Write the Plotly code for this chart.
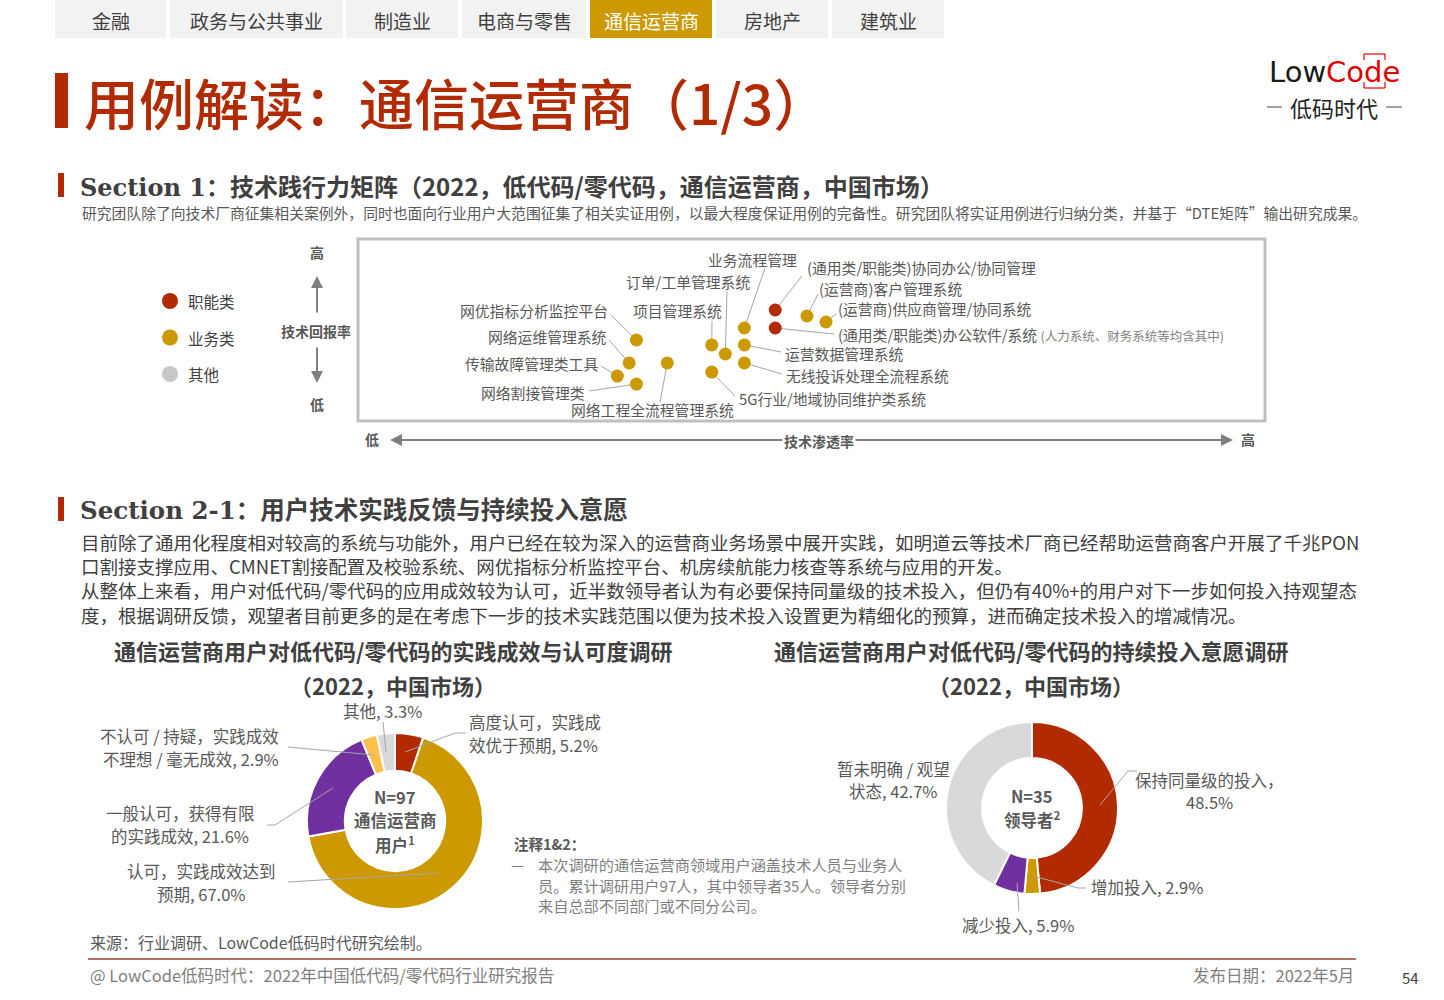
import plotly.graph_objects as go

W, H = 1444, 1000
def X(p): return p / W
def Y(p): return 1 - p / H

FONT = "Noto Sans CJK SC, Noto Sans, sans-serif"
RED = "#B22A00"
GOLD = "#CC9900"
PURPLE = "#7030A0"
ORANGE = "#FFC04C"
LGRAY = "#D9D9D9"
TXT = "#404040"
TXT2 = "#595959"
TXT3 = "#7F7F7F"

# ---------------- data ----------------
tabs = ["金融", "政务与公共事业", "制造业", "电商与零售", "通信运营商", "房地产", "建筑业"]
active_tab = "通信运营商"

systems = ["网优指标分析监控平台", "网络运维管理系统", "传输故障管理类工具", "网络割接管理类",
           "网络工程全流程管理系统", "项目管理系统", "订单/工单管理系统", "业务流程管理",
           "运营数据管理系统", "无线投诉处理全流程系统", "5G行业/地域协同维护类系统",
           "(通用类/职能类)协同办公/协同管理", "(通用类/职能类)办公软件/系统",
           "(运营商)客户管理系统", "(运营商)供应商管理/协同系统"]
penetration = [30.7, 29.9, 28.6, 30.7, 34.1, 39.0, 40.5, 42.6, 42.6, 42.6, 39.0, 46.0, 46.0, 49.5, 51.6]
tech_return = [44.5, 31.9, 24.7, 20.3, 31.9, 41.8, 36.8, 51.1, 41.8, 31.9, 26.9, 61.0, 51.1, 57.7, 54.4]
category = ["业务类"] * 11 + ["职能类", "职能类", "业务类", "业务类"]
legend_cats = ["职能类", "业务类", "其他"]

d1_labels = ["高度认可，实践成效优于预期", "认可，实践成效达到预期", "一般认可，获得有限的实践成效",
             "不认可 / 持疑，实践成效不理想 / 毫无成效", "其他"]
d1_values = [5.2, 67.0, 21.6, 2.9, 3.3]
d2_labels = ["保持同量级的投入", "增加投入", "减少投入", "暂未明确 / 观望状态"]
d2_values = [48.5, 2.9, 5.9, 42.7]

# ---------------- styles / layout helpers ----------------
cat_color = {"职能类": RED, "业务类": GOLD, "其他": "#C8C8C8"}
annotations, shapes = [], []

def txt(x, y, s, size=15, color=TXT2, anchor="left", bold=False, family=FONT, yanchor="middle", weight=None):
    if bold:
        s = f"<b>{s}</b>"
    f = dict(size=size, color=color, family=family)
    if weight:
        f["weight"] = weight
    annotations.append(dict(x=X(x), y=Y(y), xref="paper", yref="paper", text=s, showarrow=False,
                            xanchor=anchor, yanchor=yanchor, font=f))

def line(pts, color="#A6A6A6", width=1):
    for (x0, y0), (x1, y1) in zip(pts[:-1], pts[1:]):
        shapes.append(dict(type="line", xref="paper", yref="paper", x0=X(x0), y0=Y(y0),
                           x1=X(x1), y1=Y(y1), line=dict(color=color, width=width)))

def rect(x0, y0, x1, y1, fill, lc=None, lw=0):
    shapes.append(dict(type="rect", xref="paper", yref="paper", x0=X(x0), y0=Y(y0), x1=X(x1), y1=Y(y1),
                       fillcolor=fill, line=dict(color=lc or fill, width=lw), layer="below"))

def arrow(x0, y0, x1, y1, color="#7F7F7F"):
    annotations.append(dict(x=X(x1), y=Y(y1), ax=x0 - x1, ay=y0 - y1, xref="paper", yref="paper",
                            axref="pixel", ayref="pixel", text="", showarrow=True, arrowhead=2,
                            arrowsize=1.2, arrowwidth=2, arrowcolor=color))

# ---------------- tabs ----------------
tab_edges = [(55, 166), (170, 343), (346, 458), (462, 586), (590, 712), (716, 828), (832, 944)]
for t, (a, b) in zip(tabs, tab_edges):
    on = t == active_tab
    rect(a, 0, b, 38, GOLD if on else "#F2F2F2")
    txt((a + b) / 2, 20, t, size=19, color="white" if on else TXT, anchor="center")

# ---------------- title ----------------
rect(55, 73, 68, 128, RED)
txt(82, 101, "用例解读：通信运营商（1/3）", size=55, color=RED, weight=500)

# logo
annotations.append(dict(x=X(1334), y=Y(72), xref="paper", yref="paper", showarrow=False,
                        xanchor="center", yanchor="middle",
                        text="<span style='color:#1a1a1a'>Low</span><span style='color:#E00000'>Code</span>",
                        font=dict(size=29, family="DejaVu Sans")))
BR = "#E00000"
line([(1364, 60), (1364, 54), (1385, 54), (1385, 60)], color=BR, width=1.2)
line([(1364, 82), (1364, 88), (1385, 88), (1385, 82)], color=BR, width=1.2)
txt(1334, 107, "低码时代", size=22, color="#222222", anchor="center")
line([(1267, 107), (1282, 107)], color="#444444", width=1)
line([(1386, 107), (1402, 107)], color="#444444", width=1)

# ---------------- section 1 ----------------
rect(58, 173, 64, 197, RED)
txt(78, 185, "<b><span style='font-family:DejaVu Serif'>Section 1</span>：技术践行力矩阵（2022，低代码/零代码，通信运营商，中国市场）</b>",
    size=24, color=TXT)
txt(80, 213, "研究团队除了向技术厂商征集相关案例外，同时也面向行业用户大范围征集了相关实证用例，以最大程度保证用例的完备性。研究团队将实证用例进行归纳分类，并基于“DTE矩阵”输出研究成果。",
    size=14.8, color=TXT2)

# matrix frame
MX0, MX1, MY0, MY1 = 358, 1265, 239, 421
def dx(p): return (p - MX0) / (MX1 - MX0) * 100
def dy(p): return (MY1 - p) / (MY1 - MY0) * 100
rect(MX0, MY0, MX1, MY1, "rgba(0,0,0,0)", lc="#BFBFBF", lw=3)

# legend
for i, c in enumerate(legend_cats):
    yy = 301 + i * 36.5
    shapes.append(dict(type="circle", xref="paper", yref="paper", x0=X(162), x1=X(178), y0=Y(yy + 8),
                       y1=Y(yy - 8), fillcolor=cat_color[c], line=dict(width=0)))
    txt(186, yy, c, size=15.5, color=TXT)

# y axis hint
txt(317, 252, "高", size=14, color=TXT2, anchor="center", bold=True)
txt(316, 331, "技术回报率", size=14, color=TXT2, anchor="center", bold=True)
txt(317, 404, "低", size=14, color=TXT2, anchor="center", bold=True)
arrow(317, 314, 317, 276)
arrow(317, 346, 317, 383)
# x axis hint
arrow(819, 440, 390, 440)
arrow(819, 440, 1233, 440)
annotations.append(dict(x=X(819), y=Y(441), xref="paper", yref="paper", showarrow=False,
                        text="<b>技术渗透率</b>", bgcolor="white", xanchor="center", yanchor="middle",
                        font=dict(size=14, color=TXT2, family=FONT)))
txt(372, 439, "低", size=14, color=TXT2, anchor="center", bold=True)
txt(1248, 439, "高", size=14, color=TXT2, anchor="center", bold=True)

# label placement: name -> (text x, text y, anchor, leader end x, leader end y)
placements = {
    "网优指标分析监控平台": (610, 311, "right", 611, 315),
    "网络运维管理系统": (609, 336, "right", 609, 340),
    "传输故障管理类工具": (600, 363, "right", 601, 366),
    "网络割接管理类": (587, 392, "right", 589, 391),
    "网络工程全流程管理系统": (652, 410, "center", 660, 402),
    "项目管理系统": (677, 311, "center", 712, 321),
    "订单/工单管理系统": (688, 281, "center", 727, 291),
    "业务流程管理": (752, 259, "center", 765, 268),
    "运营数据管理系统": (783, 353, "left", 781, 352),
    "无线投诉处理全流程系统": (784, 375, "left", 782, 374),
    "5G行业/地域协同维护类系统": (737, 398, "left", 735, 396),
    "(通用类/职能类)协同办公/协同管理": (805, 267, "left", 802, 276),
    "(通用类/职能类)办公软件/系统": (836, 334, "left", 834, 334),
    "(运营商)客户管理系统": (817, 288, "left", 818, 294),
    "(运营商)供应商管理/协同系统": (836, 308, "left", 836, 314),
}
for name, px_, ry in zip(systems, penetration, tech_return):
    tx, ty, anc, ex, ey = placements[name]
    shapes.append(dict(type="line", xref="x", yref="y", x0=px_, y0=ry, x1=dx(ex), y1=dy(ey),
                       line=dict(color="#A6A6A6", width=1), layer="below"))
    s = name
    if name == "(通用类/职能类)办公软件/系统":
        s = name + " <span style='font-size:12.5px;color:#7F7F7F'>(人力系统、财务系统等均含其中)</span>"
    txt(tx, ty, s, size=14.8, color=TXT2, anchor=anc)

fig = go.Figure()
for c in ["业务类", "职能类"]:
    idx = [i for i, k in enumerate(category) if k == c]
    fig.add_trace(go.Scatter(x=[penetration[i] for i in idx], y=[tech_return[i] for i in idx],
                             text=[systems[i] for i in idx], mode="markers", name=c,
                             marker=dict(size=13, color=cat_color[c], line=dict(width=0)),
                             hoverinfo="text", showlegend=False))

# ---------------- section 2-1 ----------------
rect(58, 497, 64, 521, RED)
txt(78, 508, "<b><span style='font-family:DejaVu Serif'>Section 2-1</span>：用户技术实践反馈与持续投入意愿</b>",
    size=24.5, color=TXT)
para = [
    "目前除了通用化程度相对较高的系统与功能外，用户已经在较为深入的运营商业务场景中展开实践，如明道云等技术厂商已经帮助运营商客户开展了千兆PON",
    "口割接支撑应用、CMNET割接配置及校验系统、网优指标分析监控平台、机房续航能力核查等系统与应用的开发。",
    "从整体上来看，用户对低代码/零代码的应用成效较为认可，近半数领导者认为有必要保持同量级的技术投入，但仍有40%+的用户对下一步如何投入持观望态",
    "度，根据调研反馈，观望者目前更多的是在考虑下一步的技术实践范围以便为技术投入设置更为精细化的预算，进而确定技术投入的增减情况。",
]
for i, p in enumerate(para):
    txt(79, [542, 566, 590, 615][i], p, size=18.5, color=TXT)

# chart titles
txt(393, 650, "通信运营商用户对低代码/零代码的实践成效与认可度调研", size=22, color=TXT, anchor="center", bold=True)
txt(393, 685, "（2022，中国市场）", size=22, color=TXT, anchor="center", bold=True)
txt(1031, 650, "通信运营商用户对低代码/零代码的持续投入意愿调研", size=22, color=TXT, anchor="center", bold=True)
txt(1031, 685, "（2022，中国市场）", size=22, color=TXT, anchor="center", bold=True)

# donut 1
C1, R1 = (395, 821), 88
fig.add_trace(go.Pie(values=d1_values, labels=d1_labels, hole=0.57, sort=False, direction="clockwise",
                     rotation=0, textinfo="none", hoverinfo="label+percent", showlegend=False,
                     marker=dict(colors=[RED, GOLD, PURPLE, ORANGE, LGRAY], line=dict(color="white", width=2)),
                     domain=dict(x=[X(C1[0] - R1), X(C1[0] + R1)], y=[Y(C1[1] + R1), Y(C1[1] - R1)])))
txt(395, 797, "N=97", size=16.5, color=TXT2, anchor="center", bold=True)
txt(395, 820, "通信运营商", size=16.5, color=TXT2, anchor="center", bold=True)
txt(395, 844, "用户<sup>1</sup>", size=16.5, color=TXT2, anchor="center", bold=True)

LS = 16.5
txt(382, 711, "其他, 3.3%", size=LS, anchor="center")
line([(383, 722), (386, 752)])
txt(467, 722, "高度认可，实践成", size=LS)
txt(467, 745, "效优于预期, 5.2%", size=LS)
line([(466, 733), (455, 733), (405, 752)])
txt(281, 736, "不认可 / 持疑，实践成效", size=LS, anchor="right")
txt(281, 759, "不理想 / 毫无成效, 2.9%", size=LS, anchor="right")
line([(288, 747), (374, 755)])
txt(180, 813, "一般认可，获得有限", size=LS, anchor="center")
txt(180, 836, "的实践成效, 21.6%", size=LS, anchor="center")
line([(267, 825), (275, 825), (333, 788)])
txt(201, 871, "认可，实践成效达到", size=LS, anchor="center")
txt(201, 894, "预期, 67.0%", size=LS, anchor="center")
line([(288, 882), (439, 873)])

# note
txt(512, 843, "注释1&2：", size=14.5, color=TXT2, bold=True)
txt(509, 864, "—", size=14.5, color=TXT3)
for i, s in enumerate(["本次调研的通信运营商领域用户涵盖技术人员与业务人",
                       "员。累计调研用户97人，其中领导者35人。领导者分别",
                       "来自总部不同部门或不同分公司。"]):
    txt(536, 864 + i * 20.5, s, size=15.2, color=TXT3)

# donut 2
C2, R2 = (1032, 808), 86
fig.add_trace(go.Pie(values=d2_values, labels=d2_labels, hole=0.58, sort=False, direction="clockwise",
                     rotation=0, textinfo="none", hoverinfo="label+percent", showlegend=False,
                     marker=dict(colors=[RED, GOLD, PURPLE, LGRAY], line=dict(color="white", width=2)),
                     domain=dict(x=[X(C2[0] - R2), X(C2[0] + R2)], y=[Y(C2[1] + R2), Y(C2[1] - R2)])))
txt(1032, 796, "N=35", size=16.5, color=TXT2, anchor="center", bold=True)
txt(1032, 819, "领导者<sup>2</sup>", size=16.5, color=TXT2, anchor="center", bold=True)

txt(1209, 780, "保持同量级的投入，", size=LS, anchor="center")
txt(1209, 802, "48.5%", size=LS, anchor="center")
line([(1137, 771), (1128, 771), (1100, 805)])
txt(1089, 887, "增加投入, 2.9%", size=LS)
line([(1086, 888), (1078, 888), (1033, 876)])
txt(1018, 925, "减少投入, 5.9%", size=LS, anchor="center")
line([(1019, 911), (1017, 883)])
txt(893, 769, "暂未明确 / 观望", size=LS, anchor="center")
txt(893, 791, "状态, 42.7%", size=LS, anchor="center")

# ---------------- footer ----------------
txt(88, 942, "来源：行业调研、LowCode低码时代研究绘制。", size=16, color=TXT2)
line([(88, 959), (1356, 959)], color="#B07060", width=2)
txt(88, 975, "@ LowCode低码时代：2022年中国低代码/零代码行业研究报告", size=16.5, color=TXT3)
txt(1356, 975, "发布日期：2022年5月", size=16.5, color=TXT3, anchor="right")
txt(1410, 977, "54", size=15, color=TXT, anchor="center")

fig.update_layout(
    width=W, height=H, margin=dict(l=0, r=0, t=0, b=0),
    paper_bgcolor="white", plot_bgcolor="rgba(0,0,0,0)",
    xaxis=dict(domain=[X(MX0), X(MX1)], range=[0, 100], visible=False, fixedrange=True),
    yaxis=dict(domain=[Y(MY1), Y(MY0)], range=[0, 100], visible=False, fixedrange=True),
    annotations=annotations, shapes=shapes, font=dict(family=FONT),
)
fig.write_html("out.html")
